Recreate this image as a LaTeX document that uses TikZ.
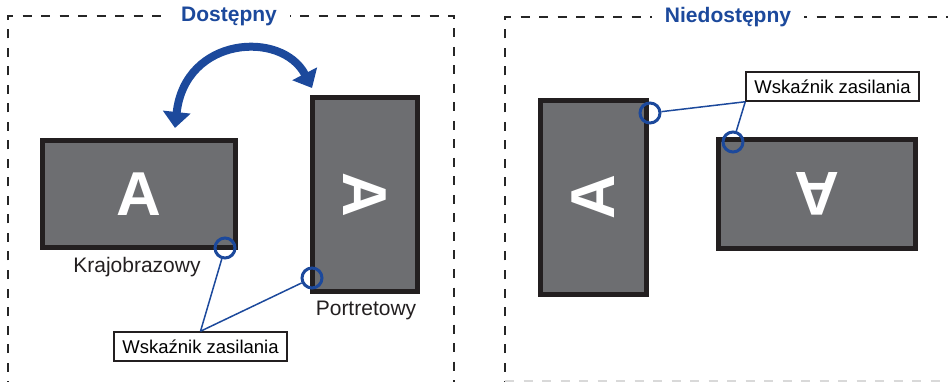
\documentclass[tikz,border=0pt]{standalone}
\usepackage{fontspec}
\setmainfont{Liberation Sans}
\usetikzlibrary{arrows.meta, positioning}
\definecolor{ledblue}{RGB}{28,73,156}
\definecolor{scrgrey}{RGB}{109,110,113}
\definecolor{scrframe}{RGB}{35,31,32}
\tikzstyle{screen} = [draw=scrframe, fill=scrgrey, rectangle, line width=5pt,
    inner sep=0pt, text=white, font=\bfseries\fontsize{62}{62}\selectfont]
\tikzstyle{led} = [draw=ledblue, circle, line width=3pt, minimum size=20pt, inner sep=0pt]
\tikzstyle{callout} = [draw=scrframe, fill=white, rectangle, line width=1.5pt,
    minimum width=173pt, minimum height=29pt, inner sep=0pt,
    font=\fontsize{18.5}{20}\selectfont]
\tikzstyle{caption} = [inner sep=0pt, font=\fontsize{21}{23}\selectfont, text=scrframe]
\tikzstyle{title} = [fill=white, inner xsep=13pt, text=ledblue,
    font=\bfseries\fontsize{21}{23}\selectfont]
\tikzstyle{frame} = [draw=black!85, line width=2pt, dash pattern=on 9pt off 9.5pt]
\newcommand{\rotA}[1]{\rotatebox{#1}{A}}

\begin{document}
\begin{tikzpicture}[x=1pt, y=-1pt, >={Triangle[length=16pt, width=27pt]}]
    \useasboundingbox (0,0) rectangle (948,382);
    % frames
    \draw [frame] (8,390) -- (8,16) -- (454,16) -- (454,390);
    \draw [frame] (505,390) -- (505,17) -- (960,17);
    \draw [frame, draw=black!15] (505,381) -- (960,381);
    \node [title] (ok) at (229,16) {Dostępny};
    \node [title] (notok) at (728,17) {Niedostępny};
    % allowed
    \node [screen, minimum width=193pt, minimum height=107pt] (landA) at (139,194) {A};
    \node [screen, minimum width=105pt, minimum height=194pt] (portA) at (365,194.5) {\rotA{-90}};
    \node [caption] (landtxt) at (137,267) {Krajobrazowy};
    \node [caption] (porttxt) at (366,310) {Portretowy};
    \node [led] (ledA) at (225,248) {};
    \node [led] (ledB) at (312,278) {};
    \node [callout] (callL) at (200.5,346.5) {Wskaźnik zasilania};
    \draw [ledblue, line width=1.5pt] (callL.north) -- (ledA);
    \draw [ledblue, line width=1.5pt] (callL.north) -- (ledB);
    \coordinate (rotL) at (175,128);
    \coordinate (rotR) at (312,88);
    \draw [ledblue, line width=8pt, <->] (rotL) .. controls (185,36) and (282,30) .. (rotR);
    % not allowed
    \node [screen, minimum width=106pt, minimum height=194pt] (portB) at (593.5,197.5) {\rotA{90}};
    \node [screen, minimum width=197pt, minimum height=109pt] (landB) at (817,194) {\rotA{180}};
    \node [led] (ledC) at (650,113) {};
    \node [led] (ledD) at (733,142) {};
    \node [callout] (callR) at (832.5,86.5) {Wskaźnik zasilania};
    \draw [ledblue, line width=1.5pt] (callR.south west) -- (ledC);
    \draw [ledblue, line width=1.5pt] (callR.south west) -- (ledD);
\end{tikzpicture}
\end{document}
